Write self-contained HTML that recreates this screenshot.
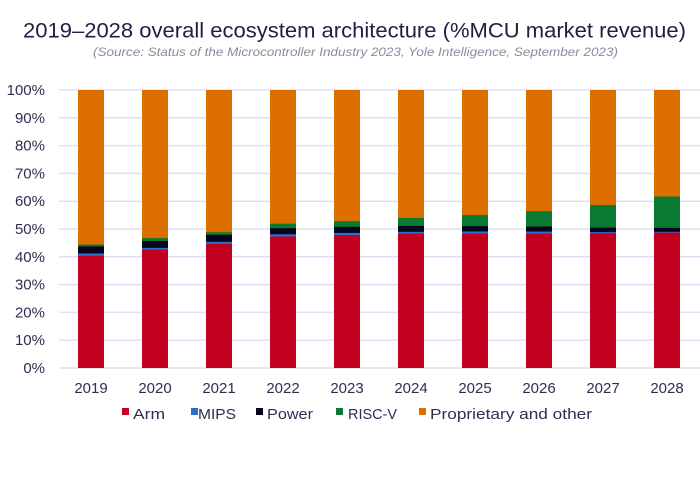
<!DOCTYPE html>
<html>
<head>
<meta charset="utf-8">
<style>
html,body{margin:0;padding:0;background:#fff;}
svg{display:block;}
text{font-family:"Liberation Sans",sans-serif;}
</style>
</head>
<body>
<svg width="700" height="493" viewBox="0 0 700 493" xmlns="http://www.w3.org/2000/svg">
<rect width="700" height="493" fill="#fff"/>
<!-- Title -->
<text x="23" y="37.5" font-size="21.5" fill="#1f1f45" textLength="663" lengthAdjust="spacingAndGlyphs">2019–2028 overall ecosystem architecture (%MCU market revenue)</text>
<text x="93" y="56" font-size="11.5" font-style="italic" fill="#8a8a9e" textLength="525" lengthAdjust="spacingAndGlyphs">(Source: Status of the Microcontroller Industry 2023, Yole Intelligence, September 2023)</text>

<!-- Gridlines -->
<g stroke="#dfe1f4" stroke-width="1.5">
<line x1="59" y1="90" x2="700" y2="90"/>
<line x1="59" y1="117.8" x2="700" y2="117.8"/>
<line x1="59" y1="145.6" x2="700" y2="145.6"/>
<line x1="59" y1="173.4" x2="700" y2="173.4"/>
<line x1="59" y1="201.2" x2="700" y2="201.2"/>
<line x1="59" y1="229" x2="700" y2="229"/>
<line x1="59" y1="256.8" x2="700" y2="256.8"/>
<line x1="59" y1="284.6" x2="700" y2="284.6"/>
<line x1="59" y1="312.4" x2="700" y2="312.4"/>
<line x1="59" y1="340.2" x2="700" y2="340.2"/>
<line x1="59" y1="368" x2="700" y2="368"/>
</g>

<!-- Y labels -->
<g font-size="15" fill="#2e2e50" text-anchor="end">
<text x="45" y="95">100%</text>
<text x="45" y="122.8">90%</text>
<text x="45" y="150.6">80%</text>
<text x="45" y="178.4">70%</text>
<text x="45" y="206.2">60%</text>
<text x="45" y="234">50%</text>
<text x="45" y="261.8">40%</text>
<text x="45" y="289.6">30%</text>
<text x="45" y="317.4">20%</text>
<text x="45" y="345.2">10%</text>
<text x="45" y="373">0%</text>
</g>

<!-- Bars -->
<g>
<!-- 2019 -->
<rect x="78" y="90" width="26" height="278" fill="#dd6e00"/>
<rect x="78" y="244.6" width="26" height="123.4" fill="#0a7a32"/>
<rect x="78" y="246.5" width="26" height="121.5" fill="#05051f"/>
<rect x="78" y="253.5" width="26" height="114.5" fill="#2a6fd0"/>
<rect x="78" y="255.7" width="26" height="112.3" fill="#c2001e"/>
<!-- 2020 -->
<rect x="142" y="90" width="26" height="278" fill="#dd6e00"/>
<rect x="142" y="238.2" width="26" height="129.8" fill="#0a7a32"/>
<rect x="142" y="241.0" width="26" height="127" fill="#05051f"/>
<rect x="142" y="247.9" width="26" height="120.1" fill="#2a6fd0"/>
<rect x="142" y="249.6" width="26" height="118.4" fill="#c2001e"/>
<!-- 2021 -->
<rect x="206" y="90" width="26" height="278" fill="#dd6e00"/>
<rect x="206" y="232.3" width="26" height="135.7" fill="#0a7a32"/>
<rect x="206" y="234.8" width="26" height="133.2" fill="#05051f"/>
<rect x="206" y="241.8" width="26" height="126.2" fill="#2a6fd0"/>
<rect x="206" y="243.7" width="26" height="124.3" fill="#c2001e"/>
<!-- 2022 -->
<rect x="270" y="90" width="26" height="278" fill="#dd6e00"/>
<rect x="270" y="223.7" width="26" height="144.3" fill="#0a7a32"/>
<rect x="270" y="228.2" width="26" height="139.8" fill="#05051f"/>
<rect x="270" y="234.3" width="26" height="133.7" fill="#2a6fd0"/>
<rect x="270" y="236.5" width="26" height="131.5" fill="#c2001e"/>
<!-- 2023 -->
<rect x="334" y="90" width="26" height="278" fill="#dd6e00"/>
<rect x="334" y="221.2" width="26" height="146.8" fill="#0a7a32"/>
<rect x="334" y="226.8" width="26" height="141.2" fill="#05051f"/>
<rect x="334" y="232.9" width="26" height="135.1" fill="#2a6fd0"/>
<rect x="334" y="235.1" width="26" height="132.9" fill="#c2001e"/>
<!-- 2024 -->
<rect x="398" y="90" width="26" height="278" fill="#dd6e00"/>
<rect x="398" y="217.9" width="26" height="150.1" fill="#0a7a32"/>
<rect x="398" y="225.9" width="26" height="142.1" fill="#05051f"/>
<rect x="398" y="231.8" width="26" height="136.2" fill="#2a6fd0"/>
<rect x="398" y="233.7" width="26" height="134.3" fill="#c2001e"/>
<!-- 2025 -->
<rect x="462" y="90" width="26" height="278" fill="#dd6e00"/>
<rect x="462" y="215.1" width="26" height="152.9" fill="#0a7a32"/>
<rect x="462" y="226.2" width="26" height="141.8" fill="#05051f"/>
<rect x="462" y="231.5" width="26" height="136.5" fill="#2a6fd0"/>
<rect x="462" y="233.7" width="26" height="134.3" fill="#c2001e"/>
<!-- 2026 -->
<rect x="526" y="90" width="26" height="278" fill="#dd6e00"/>
<rect x="526" y="211.2" width="26" height="156.8" fill="#0a7a32"/>
<rect x="526" y="226.5" width="26" height="141.5" fill="#05051f"/>
<rect x="526" y="231.5" width="26" height="136.5" fill="#2a6fd0"/>
<rect x="526" y="233.7" width="26" height="134.3" fill="#c2001e"/>
<!-- 2027 -->
<rect x="590" y="90" width="26" height="278" fill="#dd6e00"/>
<rect x="590" y="205.1" width="26" height="162.9" fill="#0a7a32"/>
<rect x="590" y="227.6" width="26" height="140.4" fill="#05051f"/>
<rect x="590" y="232.1" width="26" height="135.9" fill="#2a6fd0"/>
<rect x="590" y="233.2" width="26" height="134.8" fill="#c2001e"/>
<!-- 2028 -->
<rect x="654" y="90" width="26" height="278" fill="#dd6e00"/>
<rect x="654" y="196.5" width="26" height="171.5" fill="#0a7a32"/>
<rect x="654" y="227.9" width="26" height="140.1" fill="#05051f"/>
<rect x="654" y="231.8" width="26" height="136.2" fill="#2a6fd0"/>
<rect x="654" y="232.6" width="26" height="135.4" fill="#c2001e"/>
</g>

<!-- X labels -->
<g font-size="15" fill="#2e2e50" text-anchor="middle">
<text x="91" y="393">2019</text>
<text x="155" y="393">2020</text>
<text x="219" y="393">2021</text>
<text x="283" y="393">2022</text>
<text x="347" y="393">2023</text>
<text x="411" y="393">2024</text>
<text x="475" y="393">2025</text>
<text x="539" y="393">2026</text>
<text x="603" y="393">2027</text>
<text x="667" y="393">2028</text>
</g>

<!-- Legend -->
<g font-size="15" fill="#2e2e50">
<rect x="122" y="408" width="7" height="7" fill="#c2001e"/>
<text x="133" y="419" textLength="32" lengthAdjust="spacingAndGlyphs">Arm</text>
<rect x="191" y="408" width="7" height="7" fill="#2a6fd0"/>
<text x="198" y="419" textLength="38" lengthAdjust="spacingAndGlyphs">MIPS</text>
<rect x="256" y="408" width="7" height="7" fill="#05051f"/>
<text x="267" y="419" textLength="46" lengthAdjust="spacingAndGlyphs">Power</text>
<rect x="336" y="408" width="7" height="7" fill="#0a7a32"/>
<text x="348" y="419" textLength="49" lengthAdjust="spacingAndGlyphs">RISC-V</text>
<rect x="419" y="408" width="7" height="7" fill="#dd6e00"/>
<text x="430" y="419" textLength="162" lengthAdjust="spacingAndGlyphs">Proprietary and other</text>
</g>
</svg>
</body>
</html>
